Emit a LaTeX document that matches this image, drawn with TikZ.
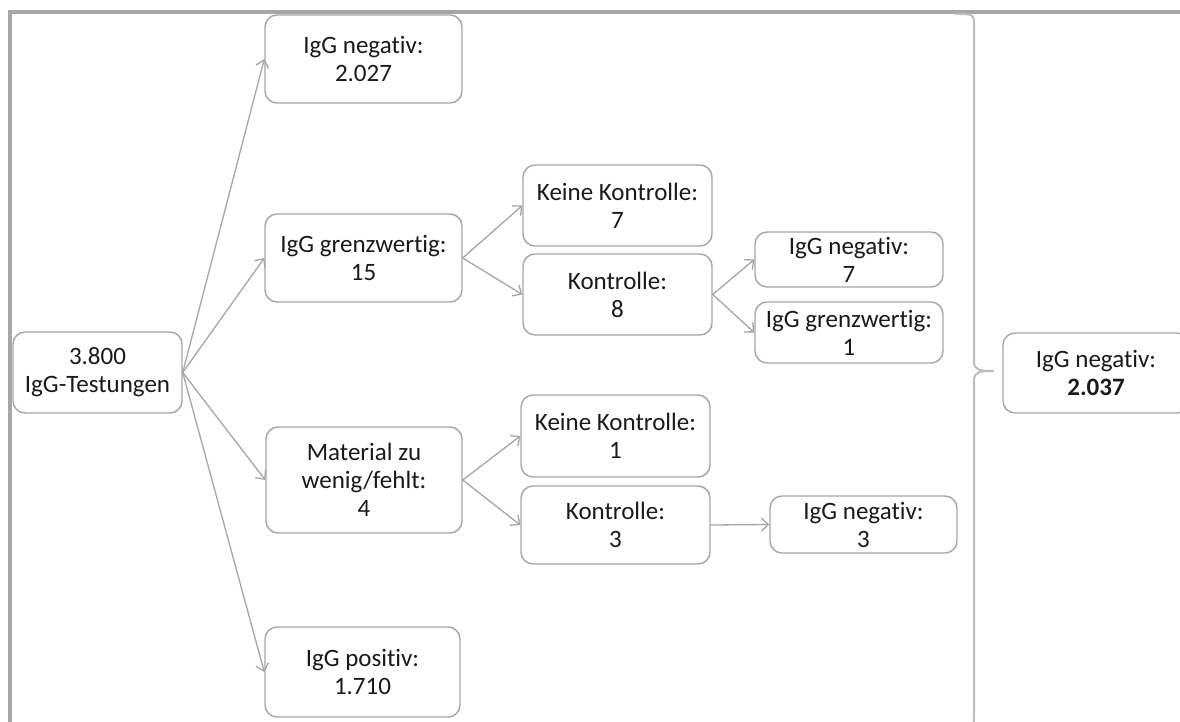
\documentclass[tikz,border=0pt]{standalone}
\usepackage{fontspec}
\setmainfont{Carlito}[Ligatures={NoCommon}]
\usetikzlibrary{arrows.meta}
\definecolor{linegray}{HTML}{A6A6A6}
\definecolor{bracegray}{HTML}{BDBDBD}
\definecolor{txt}{HTML}{1A1A1A}
\tikzset{
  box/.style={draw=linegray, line width=1.4pt, rounded corners=12pt, fill=white,
    align=center, text=txt, inner sep=0pt,
    font=\fontsize{25}{28}\selectfont},
  conn/.style={draw=linegray, line width=1.3pt,
    -{Straight Barb[length=7pt,width=13pt,line width=1.3pt]}},
  frameline/.style={draw=linegray, line width=4pt},
}
\begin{document}
\begin{tikzpicture}[x=1pt,y=-1pt]
\useasboundingbox (0,0) rectangle (1180,722);
\clip (0,0) rectangle (1180,722);
\fill[white] (0,0) rectangle (1180,722);

% outer frame (top and left edges)
\draw[frameline] (8,12) -- (1182,12);
\draw[frameline] (10,10) -- (10,724);

% boxes
\node[box, minimum width=169pt, minimum height=81pt] (root) at (97.5,372.5) {3.800\\IgG-Testungen};
\node[box, minimum width=197pt, minimum height=88pt] (neg) at (363.5,59) {IgG negativ:\\2.027};
\node[box, minimum width=197pt, minimum height=88pt] (grenz) at (363.5,258) {IgG grenzwertig:\\15};
\node[box, minimum width=196pt, minimum height=106pt] (mat) at (364,480) {Material zu\\wenig/fehlt:\\4};
\node[box, minimum width=195pt, minimum height=90pt] (pos) at (362.5,672) {IgG positiv:\\1.710};

\node[box, minimum width=189pt, minimum height=81pt] (keinA) at (617.5,205.5) {Keine Kontrolle:\\7};
\node[box, minimum width=189pt, minimum height=81pt] (kontrA) at (617.5,294.5) {Kontrolle:\\8};
\node[box, minimum width=188pt, minimum height=55pt] (negA) at (849,259.5) {IgG negativ:\\7};
\node[box, minimum width=188pt, minimum height=61pt] (grenzA) at (849,332.5) {IgG grenzwertig:\\1};

\node[box, minimum width=189pt, minimum height=82pt] (keinB) at (615.5,436) {Keine Kontrolle:\\1};
\node[box, minimum width=189pt, minimum height=78pt] (kontrB) at (615.5,525) {Kontrolle:\\3};
\node[box, minimum width=187pt, minimum height=57pt] (negB) at (863.5,524.5) {IgG negativ:\\3};

\node[box, minimum width=186pt, minimum height=80pt] (total) at (1096,373) {IgG negativ:\\\textbf{2.037}};

% connectors
\draw[conn] (root.east) -- (neg.west);
\draw[conn] (root.east) -- (grenz.west);
\draw[conn] (root.east) -- (mat.west);
\draw[conn] (root.east) -- (pos.west);
\draw[conn] (grenz.east) -- (keinA.west);
\draw[conn] (grenz.east) -- (kontrA.west);
\draw[conn] (kontrA.east) -- (negA.west);
\draw[conn] (kontrA.east) -- (grenzA.west);
\draw[conn] (mat.east) -- (keinB.west);
\draw[conn] (mat.east) -- (kontrB.west);
\draw[conn] (kontrB.east) -- (negB.west);

% summary brace
\coordinate (btop) at (955,14);
\coordinate (btip) at (993,371);
\coordinate (bbot) at (955,728);
\draw[draw=bracegray, line width=2pt, line join=round]
  (btop) .. controls (974,14) .. (974,26) -- (974,362)
  .. controls (974,370) and (980,371) .. (btip)
  .. controls (980,371) and (974,372) .. (974,380) -- (974,716)
  .. controls (974,728) .. (bbot);
\end{tikzpicture}
\end{document}
